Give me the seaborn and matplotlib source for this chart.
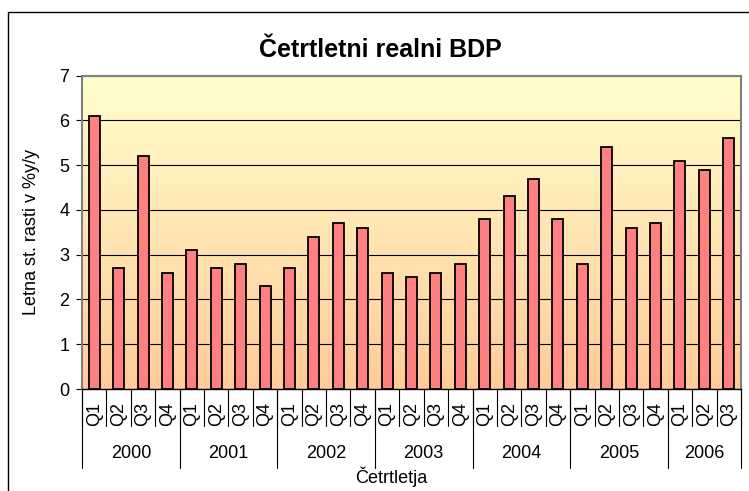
import matplotlib
matplotlib.use('Agg')
import matplotlib.pyplot as plt
import matplotlib.patches as mpatches
import numpy as np
import pandas as pd
import seaborn as sns

# data
years = ['2000', '2001', '2002', '2003', '2004', '2005', '2006']
quarters = ['Q1', 'Q2', 'Q3', 'Q4']
growth_2000 = [6.1, 2.7, 5.2, 2.6]
growth_2001 = [3.1, 2.7, 2.8, 2.3]
growth_2002 = [2.7, 3.4, 3.7, 3.6]
growth_2003 = [2.6, 2.5, 2.6, 2.8]
growth_2004 = [3.8, 4.3, 4.7, 3.8]
growth_2005 = [2.8, 5.4, 3.6, 3.7]
growth_2006 = [5.1, 4.9, 5.6]

per_year = [growth_2000, growth_2001, growth_2002, growth_2003,
            growth_2004, growth_2005, growth_2006]
rows = []
for y, vals in zip(years, per_year):
    for q, v in zip(quarters, vals):
        rows.append({'label': y + ' ' + q, 'year': y, 'quarter': q, 'value': v})
df = pd.DataFrame(rows)

sns.set_theme(style='white')
plt.rcParams['font.family'] = ['Liberation Sans', 'DejaVu Sans']
plt.rcParams['text.color'] = 'black'
plt.rcParams['axes.labelcolor'] = 'black'
plt.rcParams['ytick.color'] = 'black'
plt.rcParams['xtick.color'] = 'black'

fig = plt.figure(figsize=(7.49, 4.91), dpi=100)
ax = fig.add_axes([82 / 749, 1 - 389 / 491, 659 / 749, (389 - 75.5) / 491])

# outer chart frame
fig.patches.append(mpatches.Rectangle((8 / 749, -0.1), 1.1, 1 - 12 / 491 + 0.1,
                                      transform=fig.transFigure, fill=False,
                                      edgecolor='black', linewidth=1.0))

n = len(df)
# gradient background of plot area (orange at bottom, pale yellow on top)
grad = np.linspace(0, 1, 256).reshape(-1, 1)
cmap = matplotlib.colors.LinearSegmentedColormap.from_list('bg', ['#FFCC99', '#FFFFCC'])
ax.imshow(grad, aspect='auto', cmap=cmap, origin='lower',
          extent=(-0.5, n - 0.5, 0, 7), zorder=0)

sns.barplot(data=df, x='label', y='value', color='#FF8080', edgecolor='black',
            linewidth=1.3, width=0.45, saturation=1, ax=ax, zorder=3)

ax.set_xlim(-0.5, n - 0.5)
ax.set_ylim(0, 7)
ax.set_yticks(range(0, 8))
ax.yaxis.grid(True, color='black', linewidth=0.8)
for line in ax.get_ygridlines():
    line.set_zorder(1)
ax.tick_params(axis='y', which='both', left=True, length=4, width=0.8,
               color='black', labelcolor='black', labelsize=13, pad=5)
ax.tick_params(axis='x', bottom=False, labelbottom=False)

for side in ['top', 'right', 'left']:
    ax.spines[side].set_color('#808080')
    ax.spines[side].set_linewidth(1.5)
ax.spines['bottom'].set_color('black')
ax.spines['bottom'].set_linewidth(1.0)

ax.set_xlabel('')
ax.set_ylabel('Letna st. rasti v %y/y', fontsize=13, color='black')
ax.yaxis.set_label_coords((40 - 82) / 659, 0.5)

trans = matplotlib.transforms.blended_transform_factory(ax.transData, fig.transFigure)
def fy(px):
    return 1 - px / 491

# quarter labels and separators
for i, q in enumerate(df['quarter']):
    ax.text(i, fy(414), q, rotation=90, ha='center', va='center',
            fontsize=13, color='black', transform=trans)
for i in range(n + 1):
    ax.plot([i - 0.5, i - 0.5], [fy(389), fy(426)], color='black', lw=0.8,
            transform=trans, clip_on=False)

# year labels and separators
start = 0
for y, vals in zip(years, per_year):
    end = start + len(vals)
    ax.text((start + end - 1) / 2, fy(458), y, ha='center', va='baseline',
            fontsize=13, color='black', transform=trans)
    ax.plot([start - 0.5, start - 0.5], [fy(389), fy(468)], color='black', lw=0.8,
            transform=trans, clip_on=False)
    start = end
ax.plot([n - 0.5, n - 0.5], [fy(389), fy(468)], color='black', lw=0.8,
        transform=trans, clip_on=False)

fig.text(391 / 749, fy(483), 'Četrtletja', ha='center', va='baseline',
         fontsize=13, color='black')
fig.text(380 / 749, fy(57), 'Četrtletni realni BDP', ha='center', va='baseline',
         fontsize=18, fontweight='bold', color='black')

fig.savefig('out.png', dpi=100)
plt.close(fig)
